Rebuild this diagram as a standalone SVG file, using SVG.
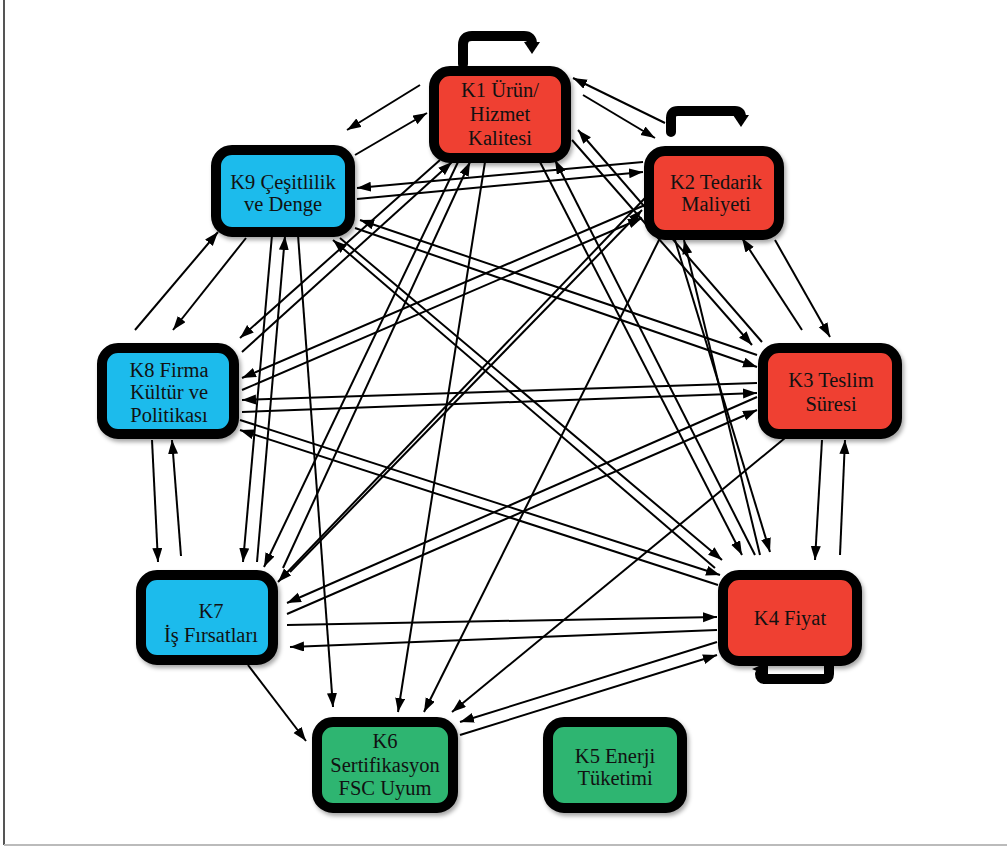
<svg xmlns="http://www.w3.org/2000/svg" width="1007" height="846" viewBox="0 0 1007 846">
<defs>
<marker id="ah" markerUnits="userSpaceOnUse" markerWidth="16" markerHeight="12" refX="14" refY="5" orient="auto">
<path d="M0,0 L14,5 L0,10 z" fill="#000"/>
</marker>
<filter id="sh" x="-10%" y="-10%" width="125%" height="130%">
<feDropShadow dx="2" dy="3" stdDeviation="2" flood-color="#000" flood-opacity="0.35"/>
</filter>
<style>
.box{stroke:#000;stroke-width:10;filter:url(#sh)}
.red{fill:#EF4130}
.blue{fill:#1BBBEC}
.green{fill:#2DB571}
.t{font-family:"Liberation Serif","Times New Roman",serif;font-size:20.5px;fill:#111;text-anchor:middle}
.e{stroke:#000;stroke-width:2;fill:none;marker-end:url(#ah)}
.loop{stroke:#000;stroke-width:10;fill:none;stroke-linejoin:round;stroke-linecap:round}
</style>
</defs>
<rect width="1007" height="846" fill="#fff"/>
<line x1="4" y1="0" x2="4" y2="845" stroke="#555" stroke-width="2"/>
<line x1="4" y1="845" x2="1007" y2="845" stroke="#bbb" stroke-width="2"/>

<g id="connectors">
<path class="e" d="M420,85 L347,130"/>
<path class="e" d="M355,155 L427,113"/>
<path class="e" d="M665,123 L573,78"/>
<path class="e" d="M583,95 L655,138"/>
<path class="e" d="M643,162 L357,188"/>
<path class="e" d="M357,199 L643,172"/>
<path class="e" d="M135,330 L218,232"/>
<path class="e" d="M246,238 L173,330"/>
<path class="e" d="M152,440 L158,562"/>
<path class="e" d="M181,556 L172,440"/>
<path class="e" d="M272,235 L243,562"/>
<path class="e" d="M257,562 L285,236"/>
<path class="e" d="M298,235 L333,707"/>
<path class="e" d="M248,665 L306,741"/>
<path class="e" d="M440,160 L240,338"/>
<path class="e" d="M242,352 L452,162"/>
<path class="e" d="M458,162 L264,567"/>
<path class="e" d="M283,568 L470,162"/>
<path class="e" d="M485,162 L398,712"/>
<path class="e" d="M660,238 L424,712"/>
<path class="e" d="M785,438 L452,712"/>
<path class="e" d="M717,642 L460,722"/>
<path class="e" d="M460,735 L717,655"/>
<path class="e" d="M540,162 L742,555"/>
<path class="e" d="M755,555 L555,160"/>
<path class="e" d="M572,140 L752,345"/>
<path class="e" d="M762,342 L578,130"/>
<path class="e" d="M675,240 L770,552"/>
<path class="e" d="M760,555 L684,240"/>
<path class="e" d="M775,240 L830,337"/>
<path class="e" d="M802,330 L742,238"/>
<path class="e" d="M822,440 L815,560"/>
<path class="e" d="M840,555 L845,440"/>
<path class="e" d="M645,198 L278,582"/>
<path class="e" d="M290,572 L642,210"/>
<path class="e" d="M645,205 L242,378"/>
<path class="e" d="M242,390 L642,218"/>
<path class="e" d="M757,397 L287,603"/>
<path class="e" d="M287,614 L757,410"/>
<path class="e" d="M287,625 L717,617"/>
<path class="e" d="M717,630 L290,647"/>
<path class="e" d="M340,238 L722,560"/>
<path class="e" d="M715,568 L333,240"/>
<path class="e" d="M240,420 L720,575"/>
<path class="e" d="M718,585 L240,430"/>
<path class="e" d="M757,355 L360,220"/>
<path class="e" d="M355,228 L757,367"/>
<path class="e" d="M757,383 L242,400"/>
<path class="e" d="M242,412 L757,393"/>
</g>

<g id="loops">
<path class="loop" d="M463,64 V45 Q463,36 472,36 H524 Q532,36 532,44"/>
<polygon points="524,42 540,42 532,54" fill="#000"/>
<path class="loop" d="M671,132 V118 Q671,111 678,111 H735 Q741,111 741,117"/>
<polygon points="733,115 749,115 741,127" fill="#000"/>
<path class="loop" d="M829,658 V674 Q829,679 824,679 H765 Q760,679 760,674"/>
<polygon points="752,669 768,662 768,676" fill="#000"/>
</g>

<g id="K1"><rect class="box red" x="434" y="71" width="132" height="87" rx="16"/>
<text class="t" x="500" y="97">K1 Ürün/</text><text class="t" x="500" y="121">Hizmet</text><text class="t" x="500" y="145">Kalitesi</text></g>
<g id="K2"><rect class="box red" x="649" y="151" width="130" height="84" rx="16"/>
<text class="t" x="716" y="189">K2 Tedarik</text><text class="t" x="716" y="211">Maliyeti</text></g>
<g id="K9"><rect class="box blue" x="216" y="150" width="134" height="82" rx="16"/>
<text class="t" x="283" y="189">K9 Çeşitlilik</text><text class="t" x="283" y="211">ve Denge</text></g>
<g id="K8"><rect class="box blue" x="102" y="348" width="132" height="86" rx="16"/>
<text class="t" x="169" y="377">K8 Firma</text><text class="t" x="169" y="399">Kültür ve</text><text class="t" x="169" y="422">Politikası</text></g>
<g id="K3"><rect class="box red" x="763" y="348" width="134" height="86" rx="16"/>
<text class="t" x="831" y="387">K3 Teslim</text><text class="t" x="831" y="411">Süresi</text></g>
<g id="K7"><rect class="box blue" x="141" y="575" width="132" height="85" rx="16"/>
<text class="t" x="211" y="618">K7</text><text class="t" x="211" y="642">İş Fırsatları</text></g>
<g id="K4"><rect class="box red" x="723" y="575" width="134" height="86" rx="16"/>
<text class="t" x="790" y="625">K4 Fiyat</text></g>
<g id="K6"><rect class="box green" x="317" y="722" width="136" height="86" rx="16"/>
<text class="t" x="385" y="748">K6</text><text class="t" x="385" y="772">Sertifikasyon</text><text class="t" x="385" y="795">FSC Uyum</text></g>
<g id="K5"><rect class="box green" x="548" y="722" width="134" height="86" rx="16"/>
<text class="t" x="615" y="763">K5 Enerji</text><text class="t" x="615" y="785">Tüketimi</text></g>
</svg>
